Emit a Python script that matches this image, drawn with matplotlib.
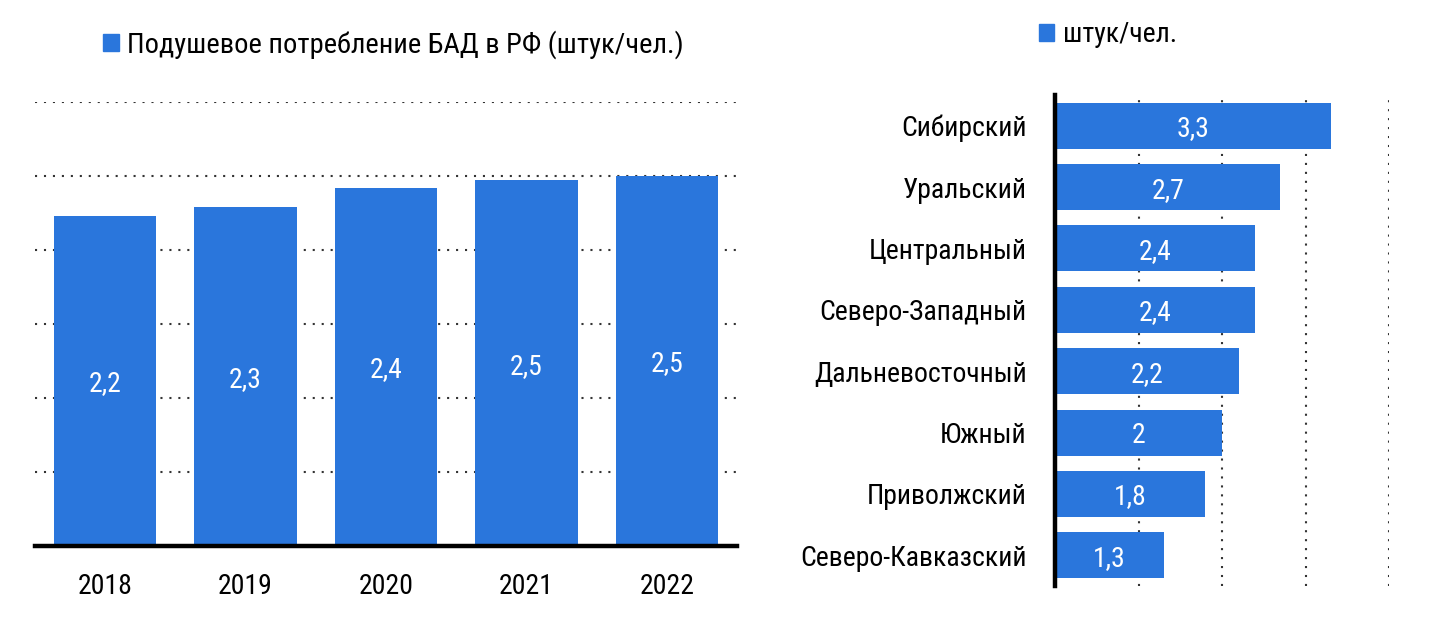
import matplotlib
matplotlib.use("Agg")
import matplotlib.pyplot as plt
from matplotlib.patches import Patch
from matplotlib import font_manager as fm

years = ['2018', '2019', '2020', '2021', '2022']
per_capita = [2.23, 2.29, 2.42, 2.47, 2.50]

regions = ['Сибирский', 'Уральский', 'Центральный', 'Северо-Западный',
           'Дальневосточный', 'Южный', 'Приволжский', 'Северо-Кавказский']
region_values = [3.3, 2.7, 2.4, 2.4, 2.2, 2.0, 1.8, 1.3]

left_legend = 'Подушевое потребление БАД в РФ (штук/чел.)'
right_legend = 'штук/чел.'

# pick a narrow font if one is installed
names = sorted({f.name for f in fm.fontManager.ttflist})
narrow = [n for n in names if ('Narrow' in n or 'Condensed' in n)]
pref = ['Liberation Sans Narrow', 'Roboto Condensed', 'Open Sans Condensed',
        'DejaVu Sans Condensed']
chosen = None
for p in pref:
    if p in names:
        chosen = p
        break
if chosen is None and narrow:
    chosen = narrow[0]
cond_stretch = [f for f in fm.fontManager.ttflist
                if f.name == 'DejaVu Sans' and str(f.stretch) in ('condensed', '300', 'semi-condensed')]

if chosen:
    plt.rcParams['font.family'] = [chosen, 'Liberation Sans', 'DejaVu Sans']
    FS = 20
    STRETCH = 'normal'
elif cond_stretch:
    plt.rcParams['font.family'] = ['DejaVu Sans']
    FS = 18
    STRETCH = 'condensed'
else:
    plt.rcParams['font.family'] = ['Liberation Sans', 'DejaVu Sans']
    FS = 18.5
    STRETCH = 'normal'
plt.rcParams['font.stretch'] = STRETCH

BLUE = '#2A76DC'
GRID = '#333333'
DOTS = (0, (1, 3.3))

def fmt(v):
    return f'{v:.1f}'.replace('.', ',') if abs(v - round(v)) > 1e-9 else f'{int(round(v))}'

fig = plt.figure(figsize=(14.41, 6.36), dpi=100)

# Left chart
ax1 = fig.add_axes([35/1441, 1-546/636, (737-35)/1441, (546-102)/636])
x = range(len(years))
bars = ax1.bar(x, per_capita, width=0.73, color=BLUE, zorder=2)
ax1.set_xlim(-0.5, 4.5)
ax1.set_ylim(0, 3.0)
ax1.set_yticks([0.5, 1.0, 1.5, 2.0, 2.5, 3.0])
ax1.yaxis.grid(True, color=GRID, linestyle=DOTS, linewidth=1.5, zorder=1)
ax1.tick_params(axis='y', left=False, labelleft=False)
ax1.set_xticks(list(x))
ax1.set_xticklabels(years, fontsize=FS)
ax1.tick_params(axis='x', bottom=False, pad=16)
for s in ['top', 'right', 'left']:
    ax1.spines[s].set_visible(False)
ax1.spines['bottom'].set_linewidth(3.2)
ax1.spines['bottom'].set_color('black')
ax1.spines['bottom'].set_zorder(3)
for b, v in zip(bars, per_capita):
    ax1.text(b.get_x() + b.get_width()/2, v/2, f'{v:.1f}'.replace('.', ','),
             ha='center', va='center_baseline', color='white', fontsize=FS)

fig.legend(handles=[Patch(color=BLUE)], labels=[left_legend], loc='center left',
           bbox_to_anchor=(103/1441, 1-45/636), frameon=False, fontsize=FS + 0.5,
           handlelength=0.55, handleheight=0.55, handletextpad=0.3,
           borderpad=0, borderaxespad=0)

# Right chart
ax2 = fig.add_axes([1055/1441, 1-586/636, (1389-1055)/1441, (586-95)/636])
y = range(len(regions))
hb = ax2.barh(y, region_values, height=0.75, color=BLUE, zorder=2)
ax2.set_ylim(7.5, -0.5)
ax2.set_xlim(0, 4)
ax2.set_xticks([1, 2, 3, 4])
ax2.xaxis.grid(True, color=GRID, linestyle=DOTS, linewidth=1.5, zorder=1)
ax2.tick_params(axis='x', bottom=False, labelbottom=False)
ax2.set_yticks(list(y))
ax2.set_yticklabels(regions, fontsize=FS)
ax2.tick_params(axis='y', left=False, pad=17)
for s in ['top', 'right', 'bottom']:
    ax2.spines[s].set_visible(False)
ax2.spines['left'].set_linewidth(3.2)
ax2.spines['left'].set_color('black')
ax2.spines['left'].set_zorder(3)
for b, v in zip(hb, region_values):
    ax2.text(v/2, b.get_y() + b.get_height()/2, fmt(v),
             ha='center', va='center_baseline', color='white', fontsize=FS)

fig.legend(handles=[Patch(color=BLUE)], labels=[right_legend], loc='center left',
           bbox_to_anchor=(1039/1441, 1-35/636), frameon=False, fontsize=FS,
           handlelength=0.55, handleheight=0.55, handletextpad=0.3,
           borderpad=0, borderaxespad=0)

fig.savefig('out.png', dpi=100, facecolor='white')
